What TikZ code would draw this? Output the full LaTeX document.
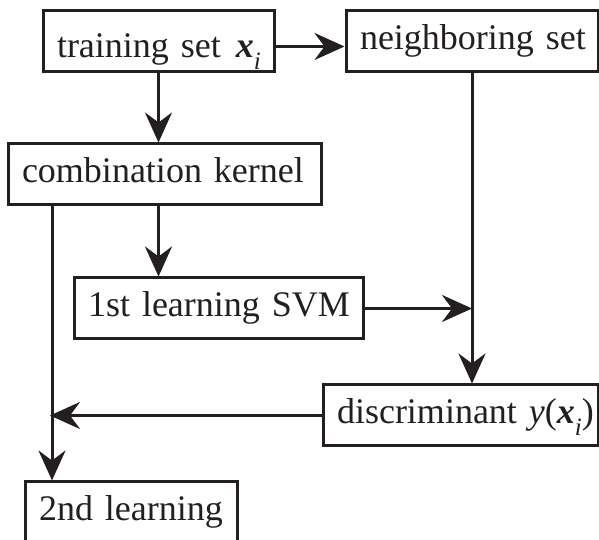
\documentclass[tikz,border=0pt]{standalone}
\usepackage{fontspec}
\setmainfont{Liberation Serif}
\usetikzlibrary{arrows.meta}
\definecolor{ink}{RGB}{35, 31, 32}
\newcommand{\vecx}{\textbf{\textit{x}}}
\newcommand{\subi}{\raisebox{-12pt}{\fontsize{25}{25}\selectfont\textit{i}}}

\begin{document}
\begin{tikzpicture}[x=1pt, y=1pt,
    stepbox/.style={draw=ink, line width=3pt, text=ink, font=\fontsize{36}{40}\selectfont,
        inner xsep=14pt, inner ysep=0pt, text width=#1, align=left,
        minimum height=61pt, text height=24pt, text depth=8pt,
        execute at begin node={\hbox\bgroup}, execute at end node={\egroup}},
    flow/.style={draw=ink, line width=3pt, -{Stealth[length=30pt, width=27pt, inset=10pt]}}]
    \useasboundingbox (0,0) rectangle (599,540);
    % boxes
    \node[stepbox=203pt, text height=40pt] (train)  at (158.5, 498.5) {training set~\kern3pt\vecx\subi};
    \node[stepbox=224pt]                   (neigh)  at (472.0, 498.5) {neighboring set};
    \node[stepbox=285pt]                   (comb)   at (164.5, 365.5) {combination kernel};
    \node[stepbox=261pt]                   (svm)    at (218.5, 231.5) {1st learning SVM};
    \node[stepbox=247pt]                   (disc)   at (460.5, 124.5) {discriminant \textit{y}(\vecx\subi)};
    \node[stepbox=184pt]                   (second) at (131.0,  27.5) {2nd learning};
    \coordinate (lft) at (52, 300);
    % connectors
    \draw[flow] ([yshift=-5pt]train.east) -- ([yshift=-5pt]neigh.west);
    \draw[flow] (train.south) -- (train.south |- comb.north);
    \draw[flow] (comb.south -| train.south) -- (svm.north -| train.south);
    \draw[flow] (neigh.south) -- (neigh.south |- disc.north);
    \draw[flow] (svm.east) -- (svm.east -| neigh.south);
    \draw[flow] (comb.south -| lft) -- (second.north -| lft);
    \draw[flow, shorten >=-2pt] (disc.west) -- (disc.west -| lft);
\end{tikzpicture}
\end{document}
